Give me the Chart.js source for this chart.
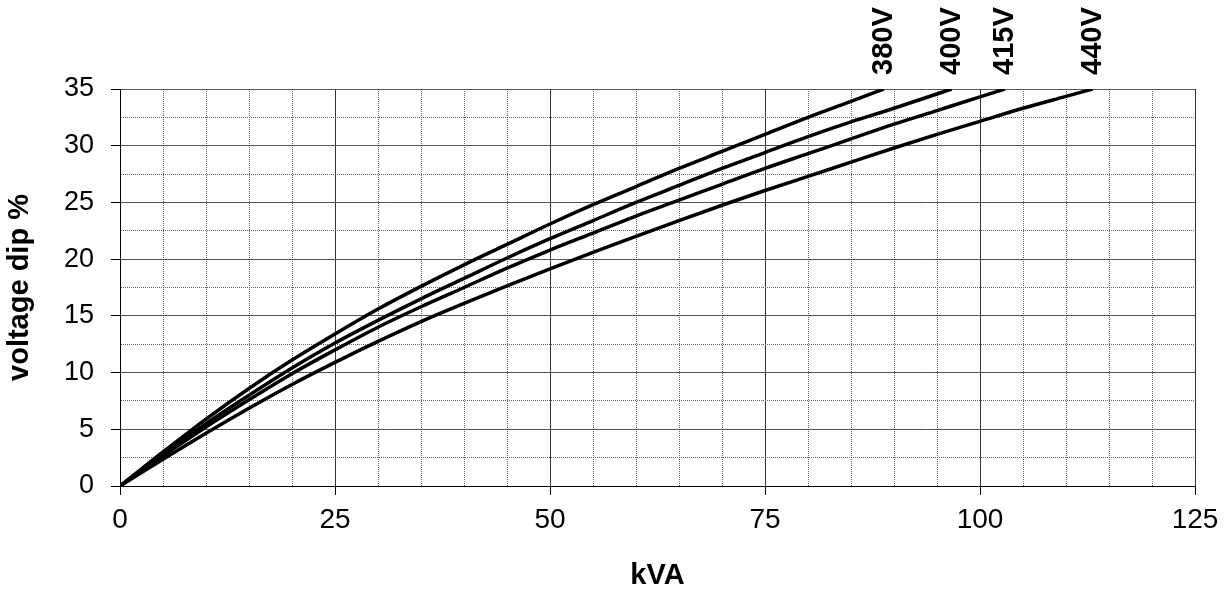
<!DOCTYPE html>
<html>
<head>
<meta charset="utf-8">
<script src="https://cdn.jsdelivr.net/npm/chart.js@4.4.0/dist/chart.umd.min.js"></script>
<style>
    html, body { margin: 0; padding: 0; background: #fff; }
    #caixa { width: 1231px; height: 593px; position: relative; }
</style>
</head>
<body>
<div id="caixa"><canvas id="canvas_grafico_dip"></canvas></div>
<script>
// valores (kVA x queda de tensao %)
let kva380 = [0, 5, 10, 15, 20, 25, 30, 35, 40, 45, 50, 55, 60, 65, 70, 75, 80, 85, 88.8];
let dip380 = [0, 3.0, 5.9, 8.6, 11.1, 13.4, 15.6, 17.6, 19.5, 21.3, 23.1, 24.8, 26.4, 28.0, 29.5, 31.0, 32.5, 33.9, 35];

let kva400 = [0, 5, 10, 15, 20, 25, 30, 35, 40, 45, 50, 55, 60, 65, 70, 75, 80, 85, 90, 96.7];
let dip400 = [0, 2.8, 5.5, 8.0, 10.4, 12.6, 14.6, 16.5, 18.3, 20.1, 21.8, 23.4, 25.0, 26.5, 28.0, 29.4, 30.8, 32.1, 33.3, 35];

let kva415 = [0, 5, 10, 15, 20, 25, 30, 35, 40, 45, 50, 55, 60, 65, 70, 75, 80, 85, 90, 95, 100, 102.9];
let dip415 = [0, 2.65, 5.2, 7.6, 9.9, 12.0, 14.0, 15.8, 17.5, 19.2, 20.8, 22.3, 23.8, 25.2, 26.6, 28.0, 29.3, 30.6, 31.9, 33.1, 34.3, 35];

let kva440 = [0, 5, 10, 15, 20, 25, 30, 35, 40, 45, 50, 55, 60, 65, 70, 75, 80, 85, 90, 95, 100, 105, 110, 113.1];
let dip440 = [0, 2.35, 4.65, 6.85, 8.95, 10.9, 12.75, 14.5, 16.1, 17.65, 19.15, 20.6, 22.0, 23.4, 24.75, 26.05, 27.3, 28.55, 29.8, 31.0, 32.15, 33.3, 34.35, 35];

let rotulos = ['380V', '400V', '415V', '440V'];

// so esses valores aparecem escritos nos eixos
let ticksX = [0, 25, 50, 75, 100, 125];
let ticksY = [0, 5, 10, 15, 20, 25, 30, 35];

Chart.defaults.font.family = '"Liberation Sans", Arial, sans-serif';
Chart.defaults.color = '#000';

// junta x e y no formato que o Chart.js espera
function montarPontos(xs, ys) {
    let pontos = [];
    for (let i = 0; i < xs.length; i++) {
        pontos.push({ x: xs[i], y: ys[i] });
    }
    return pontos;
}

function ehPrincipal(valor, passo) {
    return Math.abs(valor / passo - Math.round(valor / passo)) < 1e-6;
}

// escreve 380V, 400V... em pe, em cima do fim de cada curva
const rotulosTensao = {
    id: 'rotulosTensao',
    afterDatasetsDraw(chart) {
        let ctx = chart.ctx;
        ctx.save();
        ctx.font = 'bold 29px "Liberation Sans", Arial, sans-serif';
        ctx.fillStyle = '#000';
        ctx.textAlign = 'left';
        ctx.textBaseline = 'middle';
        chart.data.datasets.forEach(function (ds, i) {
            let meta = chart.getDatasetMeta(i);
            let ultimo = meta.data[meta.data.length - 1];
            ctx.save();
            ctx.translate(ultimo.x, chart.chartArea.top - 14);
            ctx.rotate(-Math.PI / 2);
            ctx.fillText(ds.label, 0, 0);
            ctx.restore();
        });
        ctx.restore();
    }
};

function criarDataset(nome, xs, ys) {
    return {
        label: nome,
        data: montarPontos(xs, ys),
        borderColor: '#000',
        borderWidth: 3.5,
        pointRadius: 0,
        fill: false,
        cubicInterpolationMode: 'monotone'
    };
}

function criarGrafico() {
    let contexto = document.getElementById('canvas_grafico_dip');

    new Chart(contexto, {
        type: 'line',
        data: {
            datasets: [
                criarDataset(rotulos[0], kva380, dip380),
                criarDataset(rotulos[1], kva400, dip400),
                criarDataset(rotulos[2], kva415, dip415),
                criarDataset(rotulos[3], kva440, dip440)
            ]
        },
        options: {
            responsive: true,
            maintainAspectRatio: false,
            animation: false,
            layout: { padding: { top: 89, right: 36, left: 0, bottom: 0 } },
            plugins: {
                legend: { display: false },
                tooltip: { enabled: false }
            },
            scales: {
                x: {
                    type: 'linear',
                    min: 0,
                    max: 125,
                    afterFit: function (escala) { escala.height = 107; },
                    ticks: {
                        stepSize: 5,
                        maxTicksLimit: 100,
                        autoSkip: false,
                        maxRotation: 0,
                        padding: 8,
                        font: { size: 28 },
                        callback: function (v) { return ticksX.includes(v) ? v : ''; }
                    },
                    grid: {
                        tickLength: 9,
                        lineWidth: 1,
                        color: function (c) { return c.tick && ehPrincipal(c.tick.value, 25) ? '#333' : '#666'; },
                        tickColor: function (c) { return c.tick && ehPrincipal(c.tick.value, 25) ? '#000' : 'rgba(0,0,0,0)'; }
                    },
                    border: {
                        color: '#000',
                        dash: function (c) { return c.tick && !ehPrincipal(c.tick.value, 25) ? [1, 1] : []; }
                    },
                    title: {
                        display: true,
                        text: 'kVA',
                        font: { size: 29, weight: 'bold' },
                        padding: { top: 0, bottom: 0 }
                    }
                },
                y: {
                    min: 0,
                    max: 35,
                    afterFit: function (escala) { escala.width = 120; },
                    ticks: {
                        stepSize: 2.5,
                        maxTicksLimit: 100,
                        autoSkip: false,
                        padding: 17,
                        font: { size: 27 },
                        callback: function (v) { return ticksY.includes(v) ? v : ''; }
                    },
                    grid: {
                        tickLength: 9,
                        lineWidth: 1,
                        color: function (c) { return c.tick && ehPrincipal(c.tick.value, 5) ? '#555' : '#666'; },
                        tickColor: function (c) { return c.tick && ehPrincipal(c.tick.value, 5) ? '#000' : 'rgba(0,0,0,0)'; }
                    },
                    border: {
                        color: '#000',
                        dash: function (c) { return c.tick && !ehPrincipal(c.tick.value, 5) ? [1, 1] : []; }
                    },
                    title: {
                        display: true,
                        text: 'voltage dip %',
                        font: { size: 29, weight: 'bold' },
                        padding: { top: 3, bottom: 0 }
                    }
                }
            }
        },
        plugins: [rotulosTensao]
    });
}

criarGrafico();
</script>
</body>
</html>
